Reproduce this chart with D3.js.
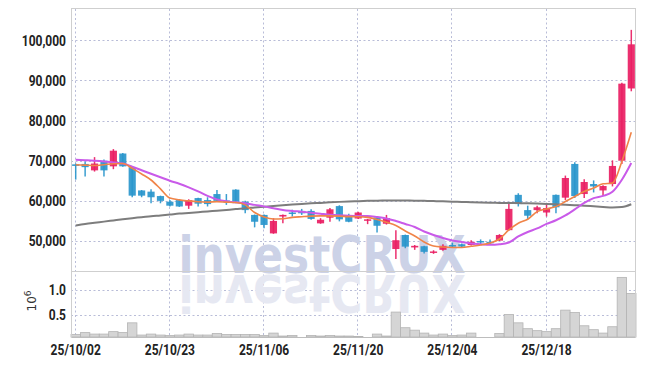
<!DOCTYPE html>
<html>
<head>
<meta charset="utf-8">
<script src="https://cdn.jsdelivr.net/npm/d3@7"></script>
<style>
  html, body { margin: 0; padding: 0; background: #fff; }
  svg { display: block; }
  .lbl { font-family: Roboto, 'Liberation Sans', sans-serif; font-weight: bold; font-size: 15px; fill: #222; }
</style>
</head>
<body>
<div id="chart"></div>
<script>
// trading days shown on the chart
const dates = [
  "25/10/02","25/10/10","25/10/13","25/10/14","25/10/15","25/10/16","25/10/17","25/10/20","25/10/21","25/10/22",
  "25/10/23","25/10/24","25/10/27","25/10/28","25/10/29","25/10/30","25/10/31","25/11/03","25/11/04","25/11/05",
  "25/11/06","25/11/07","25/11/10","25/11/11","25/11/12","25/11/13","25/11/14","25/11/17","25/11/18","25/11/19",
  "25/11/20","25/11/21","25/11/24","25/11/25","25/11/26","25/11/27","25/11/28","25/12/01","25/12/02","25/12/03",
  "25/12/04","25/12/05","25/12/08","25/12/09","25/12/10","25/12/11","25/12/12","25/12/15","25/12/16","25/12/17",
  "25/12/18","25/12/19","25/12/22","25/12/23","25/12/24","25/12/26","25/12/29","25/12/30","26/01/02","26/01/05"
];
const opens = [
  69100,69200,67600,70000,68600,71800,68400,62600,62300,61200,
  59800,60200,58800,60700,60200,61700,60100,62800,59800,56500,
  56500,51900,56100,57100,57500,57500,54400,55800,58700,56100,
  55600,55100,55900,54300,48000,51500,48400,48700,47200,47800,
  49000,49200,49000,50000,49800,50100,52700,61500,57700,57700,
  57100,61500,60800,69200,61700,64200,62600,64200,70000,88000
];
const highs = [
  69300,69800,70900,70300,72900,71900,68600,62700,62900,61300,
  60200,60300,60400,60800,60900,62700,61700,62900,60000,56600,
  56600,55700,56600,57800,58000,57900,55700,58200,58900,56800,
  57300,55500,56000,56500,52700,51600,49000,48800,47700,49200,
  49600,49400,50200,50400,50400,51700,59400,61900,58800,58800,
  59000,61600,66300,69600,65400,65100,63900,70100,89400,102600
];
const lows = [
  65300,66100,67300,66100,67900,68500,60900,60900,59400,59400,
  58600,58500,58000,58600,58600,59800,59000,59400,56900,53400,
  53200,51800,54400,56100,56500,55300,54300,54800,54900,54700,
  55500,54200,52100,54100,45500,48200,47800,46900,46800,47600,
  48400,48500,48900,49000,49000,50000,52600,58600,55400,56900,
  56100,56900,60200,60700,60700,62100,61200,63600,69200,87300
];
const closes = [
  68700,68400,69300,67600,72500,68600,61300,61300,60900,60000,
  58800,58600,60200,59300,59200,60000,59700,59800,57700,54800,
  54000,55000,56500,56800,56900,55500,55300,57900,55400,54800,
  57100,55400,53800,55700,50200,48600,48800,47300,47400,48800,
  48600,48600,49800,49700,49600,51500,58000,59200,56300,58400,
  58200,58400,65700,61200,64700,63600,63700,68700,89200,99000
];
const volumes = [
  90000,130000,100000,100000,150000,130000,330000,80000,100000,80000,
  70000,80000,100000,80000,80000,110000,90000,90000,90000,90000,
  70000,120000,60000,70000,40000,70000,60000,70000,60000,60000,
  50000,40000,100000,60000,550000,230000,180000,120000,80000,100000,
  70000,80000,120000,40000,40000,110000,500000,330000,210000,170000,
  150000,210000,590000,540000,270000,190000,120000,250000,1260000,930000
];
// moving averages
const maShort = [
  69000,68900,68800,69000,69250,69300,68100,66700,65200,63000,
  60700,60250,60000,59800,59700,59800,59680,59580,59000,57100,
  56000,55500,55550,55880,56050,56200,56250,56250,56200,56080,
  56050,55880,55380,54680,53880,52500,51250,49750,48750,48500,
  48400,48380,48680,49000,49500,50500,52750,54430,55430,57330,
  58000,58580,59830,61080,62330,63180,64250,64430,69830,77080
];
const maMid = [
  70250,70130,70000,69830,69580,69300,68500,67630,66750,65880,
  65000,64250,63380,62380,61250,60380,59880,59630,59430,59000,
  58630,58180,57750,57500,57300,57050,56800,56550,56400,56300,
  56250,56250,56000,55630,55000,54250,53500,52380,51500,50750,
  50130,49750,49380,49200,49050,49180,49630,51130,52250,53130,
  54250,55180,56380,57880,59500,60680,61250,62250,65250,69430
];
const maLong = [
  53880,54250,54550,54830,55130,55430,55700,55930,56180,56380,
  56600,56830,57000,57180,57380,57550,57750,57950,58180,58350,
  58550,58750,58930,59080,59230,59380,59500,59630,59750,59850,
  59930,60000,60050,60080,60100,60080,60050,60000,59950,59880,
  59800,59730,59650,59580,59530,59500,59480,59450,59400,59330,
  59250,59150,59050,58930,58800,58650,58500,58330,58450,59150
];
const priceTicks = [50000, 60000, 70000, 80000, 90000, 100000];
const volumeTicks = [500000, 1000000];
const dateTicks = ["25/10/02","25/10/23","25/11/06","25/11/20","25/12/04","25/12/18"];

const W = 645, H = 366;
const plotLeft = 71, plotRight = 636, plotTop = 9, split = 272, plotBottom = 337;
const upColor = "#e91e63", downColor = "#2996cc";
const squeeze = 0.8; // tick labels are a narrow face

const svg = d3.select("#chart").append("svg")
  .attr("width", W)
  .attr("height", H);

const x = d3.scaleBand().domain(dates).range([plotLeft, plotRight]).padding(0);
const cx = d => x(d) + x.bandwidth() / 2;
const y = d3.scaleLinear().domain([42280, 107800]).range([split, plotTop]);
const yVol = d3.scaleLinear().domain([40000, 1370000]).range([plotBottom, split]);

svg.append("defs").append("clipPath").attr("id", "main-clip")
  .append("rect").attr("x", plotLeft).attr("y", plotTop).attr("width", plotRight - plotLeft).attr("height", split - plotTop);

// grid
const grid = svg.append("g")
  .attr("stroke", "#b9bdd8")
  .attr("stroke-dasharray", "2,2.5")
  .attr("stroke-width", 1);

grid.selectAll("line.h")
  .data(priceTicks)
  .enter().append("line")
  .attr("x1", plotLeft).attr("x2", plotRight)
  .attr("y1", d => Math.round(y(d)) + 0.5).attr("y2", d => Math.round(y(d)) + 0.5);

grid.selectAll("line.hv")
  .data(volumeTicks)
  .enter().append("line")
  .attr("x1", plotLeft).attr("x2", plotRight)
  .attr("y1", d => Math.round(yVol(d)) + 0.5).attr("y2", d => Math.round(yVol(d)) + 0.5);

grid.selectAll("line.v")
  .data(dateTicks)
  .enter().append("line")
  .attr("x1", d => Math.round(cx(d)) - 0.5).attr("x2", d => Math.round(cx(d)) - 0.5)
  .attr("y1", plotTop).attr("y2", plotBottom);

// watermark and its reflection
const wm = svg.append("g")
  .style("font-family", "'DejaVu Sans', sans-serif")
  .style("font-weight", "bold")
  .style("font-size", "52px");

wm.append("text")
  .attr("x", 322).attr("y", 273)
  .attr("text-anchor", "middle")
  .attr("textLength", 287)
  .attr("lengthAdjust", "spacingAndGlyphs")
  .attr("fill", "#ccd2e7")
  .text("investCRUX");

wm.append("text")
  .attr("x", 322).attr("y", 273)
  .attr("text-anchor", "middle")
  .attr("textLength", 287)
  .attr("lengthAdjust", "spacingAndGlyphs")
  .attr("transform", "translate(0," + (2 * 274) + ") scale(1,-1)")
  .attr("fill", "#e6e8f2")
  .text("investCRUX");

// volume bars
svg.append("g")
  .selectAll("rect")
  .data(dates)
  .enter().append("rect")
  .attr("x", d => x(d))
  .attr("width", x.bandwidth())
  .attr("y", (d, i) => yVol(volumes[i]))
  .attr("height", (d, i) => plotBottom - yVol(volumes[i]))
  .attr("fill", "#d5d5d5")
  .attr("stroke", "#b4b4b4")
  .attr("stroke-width", 0.8);

// candles
const candles = svg.append("g").attr("clip-path", "url(#main-clip)");
const bodyW = x.bandwidth() * 0.76;

candles.selectAll("line.wick")
  .data(dates)
  .enter().append("line")
  .attr("x1", d => cx(d)).attr("x2", d => cx(d))
  .attr("y1", (d, i) => y(highs[i]))
  .attr("y2", (d, i) => y(lows[i]))
  .attr("stroke", (d, i) => closes[i] >= opens[i] ? upColor : downColor)
  .attr("stroke-width", 1.5)
  .attr("stroke-opacity", 0.92);

candles.selectAll("rect.body")
  .data(dates)
  .enter().append("rect")
  .attr("x", d => cx(d) - bodyW / 2)
  .attr("width", bodyW)
  .attr("y", (d, i) => y(Math.max(opens[i], closes[i])))
  .attr("height", (d, i) => Math.max(1.5, Math.abs(y(opens[i]) - y(closes[i]))))
  .attr("fill", (d, i) => closes[i] >= opens[i] ? upColor : downColor)
  .attr("fill-opacity", 0.92);

// moving average lines
const maLine = (series) => d3.line()
  .x((d, i) => cx(dates[i]))
  .y(d => y(d))
  .curve(d3.curveMonotoneX)(series);

const lines = svg.append("g").attr("clip-path", "url(#main-clip)").attr("fill", "none");
lines.append("path").attr("d", maLine(maLong)).attr("stroke", "#7d7d7d").attr("stroke-width", 2);
lines.append("path").attr("d", maLine(maMid)).attr("stroke", "#c95ae9").attr("stroke-width", 2);
lines.append("path").attr("d", maLine(maShort)).attr("stroke", "#f08448").attr("stroke-width", 1.6);

// frame
const frame = svg.append("g").attr("stroke", "#cfcfcf").attr("stroke-width", 1).attr("fill", "none");
frame.append("line").attr("x1", plotLeft).attr("x2", plotRight).attr("y1", plotTop - 0.5).attr("y2", plotTop - 0.5);
frame.append("line").attr("x1", plotLeft).attr("x2", plotRight).attr("y1", split - 0.5).attr("y2", split - 0.5);
frame.append("line").attr("x1", plotLeft).attr("x2", plotRight).attr("y1", plotBottom + 0.5).attr("y2", plotBottom + 0.5).attr("stroke", "#bdbdbd");
frame.append("line").attr("x1", plotLeft + 0.5).attr("x2", plotLeft + 0.5).attr("y1", plotTop - 1).attr("y2", plotBottom + 1);
frame.append("line").attr("x1", plotRight - 0.5).attr("x2", plotRight - 0.5).attr("y1", plotTop - 1).attr("y2", plotBottom + 1);

// axis labels
svg.append("g").selectAll("text")
  .data(priceTicks)
  .enter().append("text")
  .attr("class", "lbl")
  .attr("transform", d => "translate(66," + y(d) + ") scale(" + squeeze + ",1)")
  .attr("dy", "0.36em")
  .attr("text-anchor", "end")
  .text(d => d3.format(",")(d));

svg.append("g").selectAll("text")
  .data(volumeTicks)
  .enter().append("text")
  .attr("class", "lbl")
  .attr("transform", d => "translate(66," + yVol(d) + ") scale(" + squeeze + ",1)")
  .attr("dy", "0.36em")
  .attr("text-anchor", "end")
  .text(d => d3.format(".1f")(d / 1e6));

svg.append("g").selectAll("text")
  .data(dateTicks)
  .enter().append("text")
  .attr("class", "lbl")
  .attr("transform", d => "translate(" + cx(d) + ",350) scale(" + squeeze + ",1)")
  .attr("dy", "0.36em")
  .attr("text-anchor", "middle")
  .text(d => d);

const unit = svg.append("text")
  .attr("transform", "translate(36,301) rotate(-90)")
  .attr("text-anchor", "middle")
  .style("font-family", "'DejaVu Sans', sans-serif")
  .style("font-size", "12px")
  .attr("fill", "#333");
unit.append("tspan").text("10");
unit.append("tspan").attr("dy", -5).style("font-size", "9px").text("6");
</script>
</body>
</html>
